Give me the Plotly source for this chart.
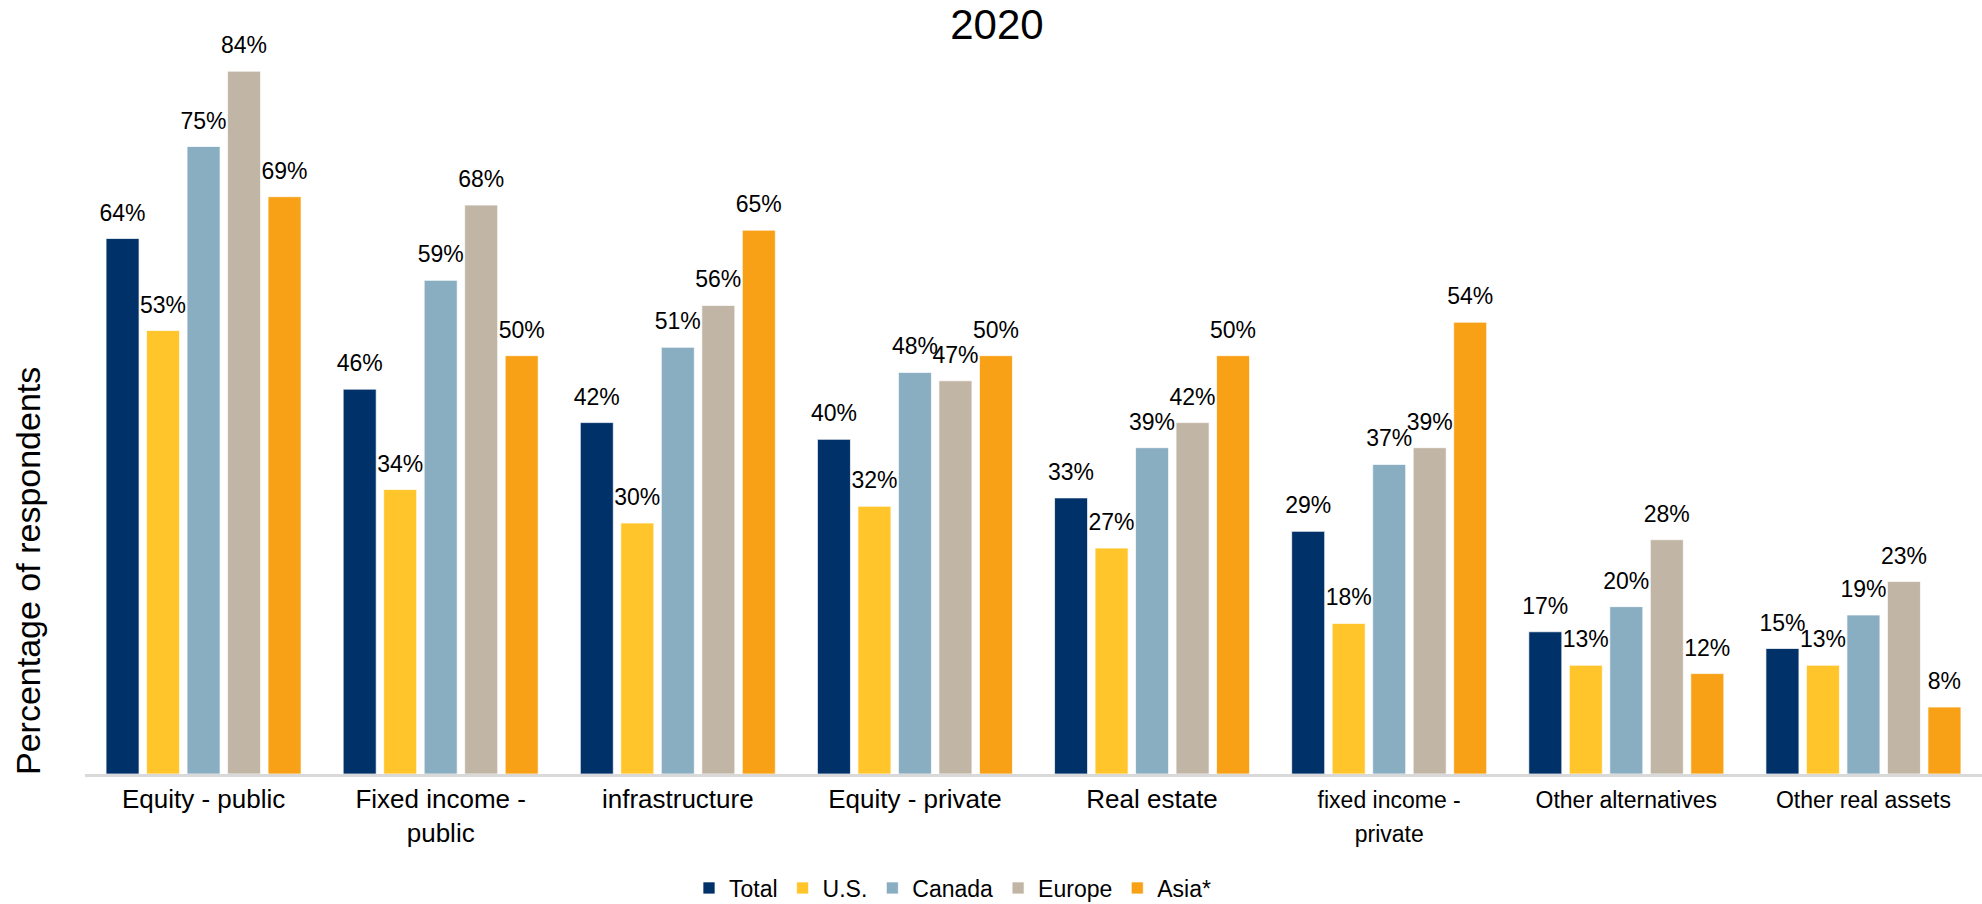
import plotly.graph_objects as go

categories = ["Equity - public", "Fixed income - public", "infrastructure", "Equity - private",
              "Real estate", "fixed income - private", "Other alternatives", "Other real assets"]
def small(s):
    return "<span style=\"font-size:23px\">" + s + "</span>"
tick_labels = ["Equity - public", "Fixed income -<br>public", "infrastructure", "Equity - private",
               "Real estate", small("fixed income -") + "<br>" + small("private"),
               small("Other alternatives"), small("Other real assets")]

series_names = ["Total", "U.S.", "Canada", "Europe", "Asia*"]
total = [64, 46, 42, 40, 33, 29, 17, 15]
us = [53, 34, 30, 32, 27, 18, 13, 13]
canada = [75, 59, 51, 48, 39, 37, 20, 19]
europe = [84, 68, 56, 47, 42, 39, 28, 23]
asia = [69, 50, 65, 50, 50, 54, 12, 8]
series_values = [total, us, canada, europe, asia]
colors = ["#003168", "#FFC52B", "#8AAEC1", "#C1B5A5", "#F8A116"]

FONT = "Liberation Sans, Arial, sans-serif"

fig = go.Figure()
for name, vals, col in zip(series_names, series_values, colors):
    fig.add_trace(go.Bar(
        x=categories, y=vals, name=name, offsetgroup=name,
        marker=dict(color=col, line=dict(color="rgba(255,255,255,0.7)", width=1)),
        hoverinfo="x+y+name",
    ))
for name, vals in zip(series_names, series_values):
    fig.add_trace(go.Scatter(
        x=categories, y=vals, mode="markers+text", offsetgroup=name,
        text=[f"{v}%" for v in vals], textposition="top center",
        textfont=dict(family=FONT, size=23, color="#000000"),
        marker=dict(size=18, color="rgba(0,0,0,0)"),
        showlegend=False, hoverinfo="skip", cliponaxis=False,
    ))

fig.update_layout(
    width=1982, height=904,
    margin=dict(l=85, r=0, t=21, b=130),
    paper_bgcolor="white", plot_bgcolor="white",
    barmode="group", bargap=0.146, bargroupgap=0.185,
    scattermode="group", scattergap=0.146,
    font=dict(family=FONT, color="#000000"),
    title=dict(text="2020", font=dict(size=42, color="#000000"),
               x=0.503, xref="container", xanchor="center",
               y=1 - 24 / 904, yref="container", yanchor="middle"),
    legend=dict(orientation="h", xref="container", yref="container",
                x=953 / 1982, xanchor="center", y=1 - 888 / 904, yanchor="middle",
                font=dict(family=FONT, size=23, color="#000000"),
                itemwidth=30, traceorder="normal"),
    showlegend=True,
)
fig.update_xaxes(
    tickmode="array", tickvals=categories, ticktext=tick_labels,
    tickfont=dict(size=26, color="#000000"),
    showline=True, linecolor="#D9D9D9", linewidth=3,
    ticks="", showgrid=False, zeroline=False,
)
fig.update_yaxes(range=[0, 90], showticklabels=False, showgrid=False,
                 zeroline=False, showline=False, ticks="")
fig.add_annotation(text="Percentage of respondents", textangle=-90,
                   xref="paper", yref="paper", x=(28 - 85) / 1897, y=(774 - 571) / 753,
                   xanchor="center", yanchor="middle", showarrow=False,
                   font=dict(size=34, color="#000000"))

fig.write_html("out.html", config={"displayModeBar": False},
               post_script="document.body.style.margin='0';")
